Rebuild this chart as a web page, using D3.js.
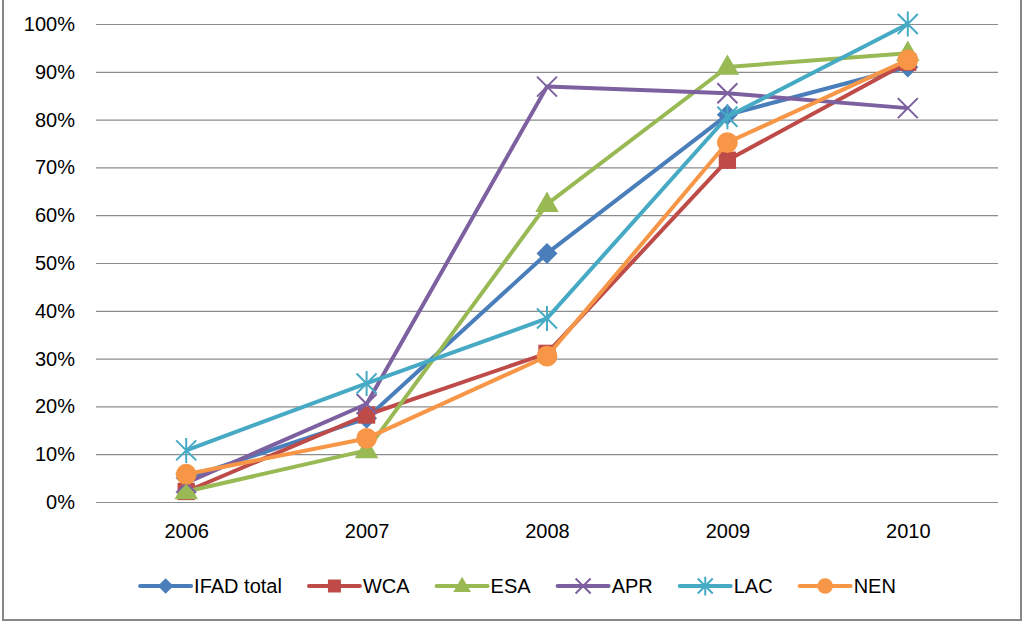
<!DOCTYPE html>
<meta charset="utf-8">
<script src="https://cdn.jsdelivr.net/npm/d3@7/dist/d3.min.js"></script>
<style>
  body { margin: 0; background: #fff; }
  text { font-family: "Liberation Sans", Arial, sans-serif; fill: #000; }
</style>
<div id="chart"></div>
<script>
// categories and series (share of projects)
var years = ["2006", "2007", "2008", "2009", "2010"];
var ifad = [0.050, 0.175, 0.520, 0.810, 0.910];
var wca  = [0.022, 0.182, 0.311, 0.715, 0.920];
var esa  = [0.022, 0.108, 0.623, 0.910, 0.939];
var apr  = [0.040, 0.205, 0.869, 0.855, 0.824];
var lac  = [0.108, 0.248, 0.384, 0.806, 1.000];
var nen  = [0.058, 0.133, 0.305, 0.752, 0.925];
var yTicks = [0, 0.1, 0.2, 0.3, 0.4, 0.5, 0.6, 0.7, 0.8, 0.9, 1.0];

var series = [
  {name: "IFAD total", values: ifad, color: "#4A7EBB", marker: "diamond"},
  {name: "WCA", values: wca, color: "#BE4B48", marker: "square"},
  {name: "ESA", values: esa, color: "#98B954", marker: "triangle"},
  {name: "APR", values: apr, color: "#7D60A0", marker: "x"},
  {name: "LAC", values: lac, color: "#46AAC5", marker: "star"},
  {name: "NEN", values: nen, color: "#F79646", marker: "circle"}
];

var W = 1023, H = 622;
var plot = {left: 96, right: 998, top: 24, bottom: 502};

var svg = d3.select("#chart").append("svg")
    .attr("width", W)
    .attr("height", H);

// outer frame
svg.append("rect")
    .attr("x", 3).attr("y", -5)
    .attr("width", 1018).attr("height", 625)
    .attr("fill", "none")
    .attr("stroke", "#878787")
    .attr("stroke-width", 2);

var x = d3.scalePoint()
    .domain(years)
    .range([plot.left, plot.right])
    .padding(0.5);

var y = d3.scaleLinear()
    .domain([0, 1])
    .range([plot.bottom, plot.top]);

// gridlines + y labels
var yAxis = svg.append("g")
    .attr("transform", "translate(" + plot.left + ",0)")
    .call(d3.axisLeft(y)
      .tickValues(yTicks)
      .tickFormat(d3.format(".0%"))
      .tickSize(-(plot.right - plot.left))
      .tickPadding(21));
yAxis.select(".domain").remove();
yAxis.selectAll(".tick line").attr("stroke", "#8c8c8c").attr("stroke-width", 1.2);
yAxis.selectAll(".tick text")
    .style("font-size", "20px")
    .style("font-family", "Liberation Sans, Arial, sans-serif")
    .attr("fill", "#000");

// x labels
var xAxis = svg.append("g")
    .attr("transform", "translate(0," + plot.bottom + ")")
    .call(d3.axisBottom(x).tickSize(0).tickPadding(22));
xAxis.select(".domain").remove();
xAxis.selectAll(".tick text")
    .style("font-size", "20px")
    .style("font-family", "Liberation Sans, Arial, sans-serif")
    .attr("fill", "#000");

// marker drawing
function drawMarker(g, type, color, size) {
  var s = size;
  if (type === "diamond") {
    g.append("path").attr("d", d3.symbol(d3.symbolSquare, s * s * 0.55)())
      .attr("transform", "rotate(45)")
      .attr("fill", color);
  } else if (type === "square") {
    g.append("path").attr("d", d3.symbol(d3.symbolSquare, s * s * 0.75)())
      .attr("fill", color);
  } else if (type === "triangle") {
    g.append("path").attr("d", d3.symbol(d3.symbolTriangle, s * s * 0.6)())
      .attr("transform", "translate(0,1)")
      .attr("fill", color);
  } else if (type === "circle") {
    g.append("path").attr("d", d3.symbol(d3.symbolCircle, s * s * 0.85)())
      .attr("fill", color);
  } else {
    var h = s * 0.5;
    var p = d3.path();
    p.moveTo(-h, -h); p.lineTo(h, h);
    p.moveTo(-h, h); p.lineTo(h, -h);
    if (type === "star") { p.moveTo(0, -h * 1.25); p.lineTo(0, h * 1.25); }
    g.append("path").attr("d", p.toString())
      .attr("fill", "none")
      .attr("stroke", color)
      .attr("stroke-width", 2);
  }
}

var line = d3.line()
    .x(function(d, i) { return x(years[i]); })
    .y(function(d) { return y(d); });

series.forEach(function(s) {
  var g = svg.append("g");
  g.append("path")
    .datum(s.values)
    .attr("d", line)
    .attr("fill", "none")
    .attr("stroke", s.color)
    .attr("stroke-width", 4)
    .attr("stroke-linejoin", "round");
  s.values.forEach(function(v, i) {
    var m = g.append("g")
      .attr("transform", "translate(" + x(years[i]) + "," + y(v) + ")");
    drawMarker(m, s.marker, s.color, 20);
  });
});

// legend
var legend = svg.append("g");
var lx = 0;
series.forEach(function(s) {
  var item = legend.append("g").attr("transform", "translate(" + lx + ",0)");
  item.append("line")
    .attr("x1", 0).attr("x2", 51)
    .attr("stroke", s.color)
    .attr("stroke-width", 4)
    .attr("stroke-linecap", "round");
  var m = item.append("g").attr("transform", "translate(25.5,0)");
  drawMarker(m, s.marker, s.color, 15);
  var t = item.append("text")
    .attr("x", 54)
    .attr("dy", "0.36em")
    .style("font-size", "20px")
    .text(s.name);
  lx += 54 + t.node().getComputedTextLength() + 27;
});
var legendWidth = lx - 27;
legend.attr("transform", "translate(" + (518 - legendWidth / 2) + ",586)");
</script>
